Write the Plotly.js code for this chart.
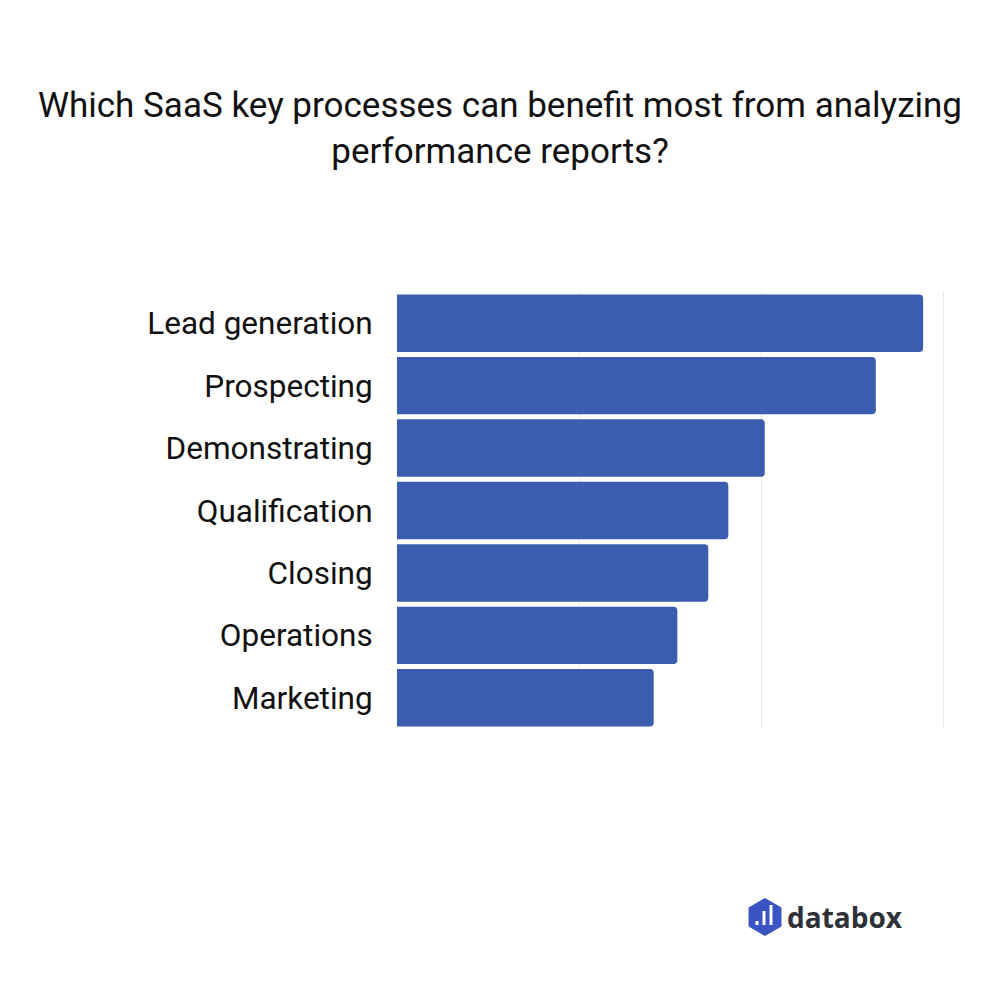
<!DOCTYPE html>
<html>
<head>
<meta charset="utf-8">
<script src="https://cdn.plot.ly/plotly-3.0.1.min.js"></script>
<style>html,body{margin:0;padding:0;background:#fff;}#chart{width:1000px;height:1000px;}</style>
</head>
<body>
<div id="chart"></div>
<script>
const categories = ["Lead generation", "Prospecting", "Demonstrating", "Qualification", "Closing", "Operations", "Marketing"];
const values = [28.9, 26.3, 20.2, 18.2, 17.1, 15.4, 14.1];
const titleText = "Which SaaS key processes can benefit most from analyzing<br>performance reports?";
const brandText = "databox";

const trace = {
  type: "bar",
  orientation: "h",
  x: values,
  y: categories,
  marker: {color: "#3a5dae", cornerradius: 4},
  hoverinfo: "none"
};

const layout = {
  width: 1000,
  height: 1000,
  paper_bgcolor: "#fff",
  plot_bgcolor: "#fff",
  margin: {l: 397, r: 55, t: 292, b: 271},
  bargap: 0.08,
  showlegend: false,
  font: {family: "Roboto, sans-serif", color: "#111"},
  title: {
    text: titleText,
    x: 0.5, xref: "container", xanchor: "center",
    y: 0.883, yref: "container", yanchor: "middle",
    font: {size: 35, color: "#111", family: "Roboto, sans-serif"}
  },
  xaxis: {
    range: [0, 30.1],
    dtick: 10,
    showticklabels: false,
    showgrid: true,
    gridcolor: "#e8e8e8",
    gridwidth: 1,
    zeroline: false,
    showline: false,
    fixedrange: true
  },
  yaxis: {
    autorange: "reversed",
    tickfont: {size: 31.5, color: "#111", family: "Roboto, sans-serif"},
    ticks: "outside",
    ticklen: 17,
    tickcolor: "rgba(0,0,0,0)",
    showgrid: false,
    zeroline: false,
    showline: false,
    fixedrange: true
  },
  annotations: [],
  shapes: []
};

function px2x(px) { return (px - 397) / 548; }
function py2y(py) { return 1 - (py - 292) / 437; }

layout.annotations.push({
  text: "<b>" + brandText + "</b>",
  xref: "paper", yref: "paper",
  x: px2x(785), y: py2y(917),
  xanchor: "left", yanchor: "middle",
  showarrow: false,
  font: {size: 28, color: "#2e3138", family: "Open Sans, sans-serif"}
});

(function() {
  const cx = 765, cy = 917, r = 19;
  let p = "";
  for (let i = 0; i < 6; i++) {
    const a = Math.PI / 180 * (60 * i - 90);
    const x = px2x(cx + r * Math.cos(a));
    const y = py2y(cy + r * Math.sin(a));
    p += (i === 0 ? "M" : "L") + x.toFixed(5) + "," + y.toFixed(5);
  }
  p += "Z";
  layout.shapes.push({type: "path", xref: "paper", yref: "paper", path: p,
    fillcolor: "#3b54c4", line: {width: 0}, layer: "above"});
  const bars = [[757, 925, 921], [764, 925, 911], [771, 925, 905]];
  bars.forEach(b => {
    layout.shapes.push({type: "rect", xref: "paper", yref: "paper",
      x0: px2x(b[0] - 1.5), x1: px2x(b[0] + 1.5), y0: py2y(b[1]), y1: py2y(b[2]),
      fillcolor: "#ffffff", line: {width: 0}, layer: "above"});
  });
})();

Plotly.newPlot("chart", [trace], layout, {displayModeBar: false, staticPlot: true});
</script>
</body>
</html>
